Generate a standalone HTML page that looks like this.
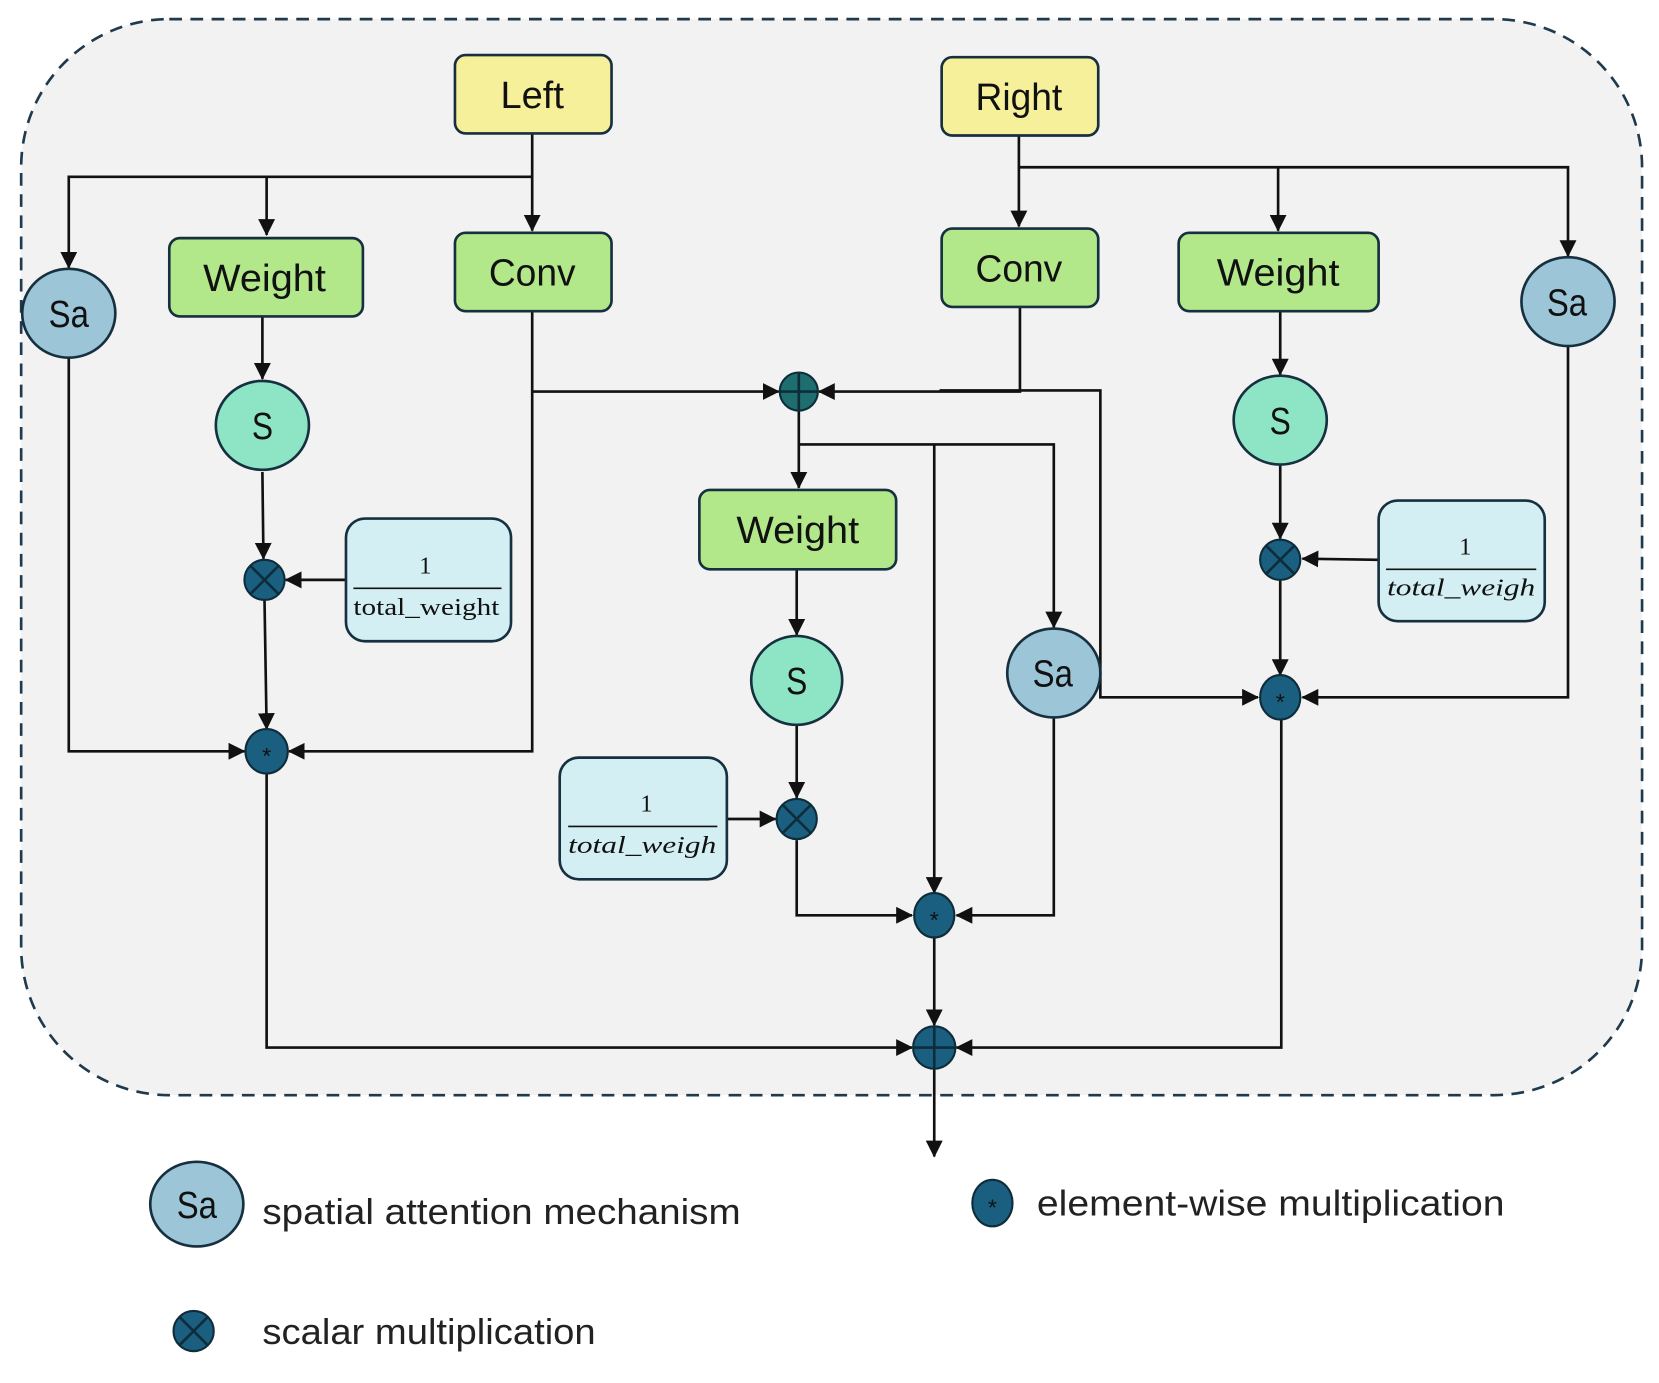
<!DOCTYPE html>
<html><head><style>html,body{margin:0;padding:0;background:#fff}svg{display:block}</style></head><body>
<svg width="1659" height="1383" viewBox="0 0 1568 1307" xmlns="http://www.w3.org/2000/svg">
<defs>
<marker id="a" viewBox="0 0 16 16" refX="15" refY="8" markerWidth="16" markerHeight="16" markerUnits="userSpaceOnUse" orient="auto">
<path d="M0,0 L16,8 L0,16 z" fill="#111"/></marker>
</defs>
<rect x="20" y="18" width="1532" height="1017" rx="140" fill="#f2f2f2" stroke="#1f3a4d" stroke-width="2.5" stroke-dasharray="12,8"/>
<g fill="none" stroke="#111" stroke-width="2.5">
<path d="M503,126 V218" marker-end="url(#a)"/>
<path d="M503,167 H65 V253" marker-end="url(#a)"/>
<path d="M252,167 V222" marker-end="url(#a)"/>
<path d="M248,299 V358" marker-end="url(#a)"/>
<path d="M248,446 L249,528" marker-end="url(#a)"/>
<path d="M250,567 L252,689" marker-end="url(#a)"/>
<path d="M327,548 H270" marker-end="url(#a)"/>
<path d="M65,338 V710 H231" marker-end="url(#a)"/>
<path d="M503,294 V710 H273" marker-end="url(#a)"/>
<path d="M503,370 H736" marker-end="url(#a)"/>
<path d="M963,128 V214" marker-end="url(#a)"/>
<path d="M963,158 H1482 V242" marker-end="url(#a)"/>
<path d="M1208,158 V218" marker-end="url(#a)"/>
<path d="M1210,294 L1210,354" marker-end="url(#a)"/>
<path d="M1210,440 V509" marker-end="url(#a)"/>
<path d="M1210,548 V638" marker-end="url(#a)"/>
<path d="M1303,529 L1231,528" marker-end="url(#a)"/>
<path d="M1482,327 V659 H1231" marker-end="url(#a)"/>
<path d="M964,290 V370 H774" marker-end="url(#a)"/>
<path d="M888,369 H1040 V659 H1189" marker-end="url(#a)"/>
<path d="M755,388 V461" marker-end="url(#a)"/>
<path d="M755,420 H996 V593" marker-end="url(#a)"/>
<path d="M883,420 V844" marker-end="url(#a)"/>
<path d="M753,538 V600" marker-end="url(#a)"/>
<path d="M753,686 V754" marker-end="url(#a)"/>
<path d="M687,774 H733" marker-end="url(#a)"/>
<path d="M753,794 V865 H862" marker-end="url(#a)"/>
<path d="M996,678 V865 H904" marker-end="url(#a)"/>
<path d="M883,886 V969" marker-end="url(#a)"/>
<path d="M883,1010 V1093" marker-end="url(#a)"/>
<path d="M252,730 V990 H862" marker-end="url(#a)"/>
<path d="M1211,679 V990 H904" marker-end="url(#a)"/>
</g>
<g stroke="#16303f" stroke-width="2.5">
<rect x="430" y="52" width="148" height="74" rx="10" fill="#f6f09b"/>
<rect x="890" y="54" width="148" height="74" rx="10" fill="#f6f09b"/>
<rect x="430" y="220" width="148" height="74" rx="10" fill="#b2e78a"/>
<rect x="890" y="216" width="148" height="74" rx="10" fill="#b2e78a"/>
<rect x="160" y="225" width="183" height="74" rx="10" fill="#b2e78a"/>
<rect x="1114" y="220" width="189" height="74" rx="10" fill="#b2e78a"/>
<rect x="661" y="463" width="186" height="75" rx="10" fill="#b2e78a"/>
<ellipse cx="65" cy="296" rx="44" ry="42" fill="#9cc5d8"/>
<ellipse cx="1482" cy="285" rx="44" ry="42" fill="#9cc5d8"/>
<ellipse cx="996" cy="636" rx="44" ry="42" fill="#9cc5d8"/>
<ellipse cx="248" cy="402" rx="44" ry="42" fill="#8ee5c6"/>
<ellipse cx="1210" cy="397" rx="44" ry="42" fill="#8ee5c6"/>
<ellipse cx="753" cy="643" rx="43" ry="42" fill="#8ee5c6"/>
<rect x="327" y="490" width="156" height="116" rx="18" fill="#d4eff3"/>
<rect x="1303" y="473" width="157" height="114" rx="18" fill="#d4eff3"/>
<rect x="529" y="716" width="158" height="115" rx="18" fill="#d4eff3"/>
<ellipse cx="186" cy="1138" rx="44" ry="40" fill="#9cc5d8"/>
</g>
<g font-family="Liberation Sans, sans-serif" font-size="36" text-anchor="middle" fill="#111">
<text x="503" y="102" textLength="60" lengthAdjust="spacingAndGlyphs">Left</text>
<text x="963" y="104" textLength="82" lengthAdjust="spacingAndGlyphs">Right</text>
<text x="503" y="270" textLength="82" lengthAdjust="spacingAndGlyphs">Conv</text>
<text x="963" y="266" textLength="82" lengthAdjust="spacingAndGlyphs">Conv</text>
<text x="250" y="275" textLength="116" lengthAdjust="spacingAndGlyphs">Weight</text>
<text x="1208" y="270" textLength="116" lengthAdjust="spacingAndGlyphs">Weight</text>
<text x="754" y="513" textLength="116" lengthAdjust="spacingAndGlyphs">Weight</text>
<text x="65" y="309" textLength="38" lengthAdjust="spacingAndGlyphs">Sa</text>
<text x="1481" y="298" textLength="38" lengthAdjust="spacingAndGlyphs">Sa</text>
<text x="995" y="649" textLength="38" lengthAdjust="spacingAndGlyphs">Sa</text>
<text x="248" y="415" textLength="20" lengthAdjust="spacingAndGlyphs">S</text>
<text x="1210" y="410" textLength="20" lengthAdjust="spacingAndGlyphs">S</text>
<text x="753" y="656" textLength="20" lengthAdjust="spacingAndGlyphs">S</text>
<text x="186" y="1151" textLength="38" lengthAdjust="spacingAndGlyphs">Sa</text>
</g>
<g font-family="Liberation Serif, serif" font-size="23" text-anchor="middle" fill="#111">
<text x="402" y="542">1</text><line x1="334" y1="556" x2="474" y2="556" stroke="#111" stroke-width="1.5"/><text x="403" y="581" textLength="138" lengthAdjust="spacingAndGlyphs">total_weight</text>
<text x="1385" y="524">1</text><line x1="1310" y1="538" x2="1452" y2="538" stroke="#111" stroke-width="1.5"/><text x="1381" y="563" font-style="italic" textLength="140" lengthAdjust="spacingAndGlyphs">total_weigh</text>
<text x="611" y="767">1</text><line x1="537" y1="781" x2="678" y2="781" stroke="#111" stroke-width="1.5"/><text x="607" y="806" font-style="italic" textLength="140" lengthAdjust="spacingAndGlyphs">total_weigh</text>
</g>
<g stroke="#0f2c3a" stroke-width="2" fill="#1a5f80">
<circle cx="250" cy="548" r="19"/><path d="M237,535 L263,561 M263,535 L237,561" stroke-width="2.5"/>
<circle cx="1210" cy="529" r="19"/><path d="M1197,516 L1223,542 M1223,516 L1197,542" stroke-width="2.5"/>
<circle cx="753" cy="774" r="19"/><path d="M740,761 L766,787 M766,761 L740,787" stroke-width="2.5"/>
<circle cx="183" cy="1258" r="19"/><path d="M170,1245 L196,1271 M196,1245 L170,1271" stroke-width="2.5"/>
<ellipse cx="252" cy="710" rx="20" ry="21"/>
<ellipse cx="1210" cy="659" rx="19" ry="21"/>
<ellipse cx="883" cy="865" rx="19" ry="21"/>
<ellipse cx="938" cy="1137" rx="19" ry="22"/>
<circle cx="755" cy="370" r="18" fill="#1e6e70"/><path d="M737,370 H773 M755,352 V388" stroke-width="2.5"/>
<circle cx="883" cy="990" r="20"/><path d="M863,990 H903 M883,970 V1010" stroke-width="2.5"/>
</g>
<g font-family="Liberation Sans, sans-serif" font-size="22" fill="#111" text-anchor="middle">
<text x="252" y="722">*</text><text x="1210" y="671">*</text><text x="883" y="877">*</text><text x="938" y="1149">*</text>
</g>
<g font-family="Liberation Sans, sans-serif" font-size="34" fill="#222">
<text x="248" y="1157" textLength="452" lengthAdjust="spacingAndGlyphs">spatial attention mechanism</text>
<text x="980" y="1149" textLength="442" lengthAdjust="spacingAndGlyphs">element-wise multiplication</text>
<text x="248" y="1270" textLength="315" lengthAdjust="spacingAndGlyphs">scalar multiplication</text>
</g>
</svg>
</body></html>
